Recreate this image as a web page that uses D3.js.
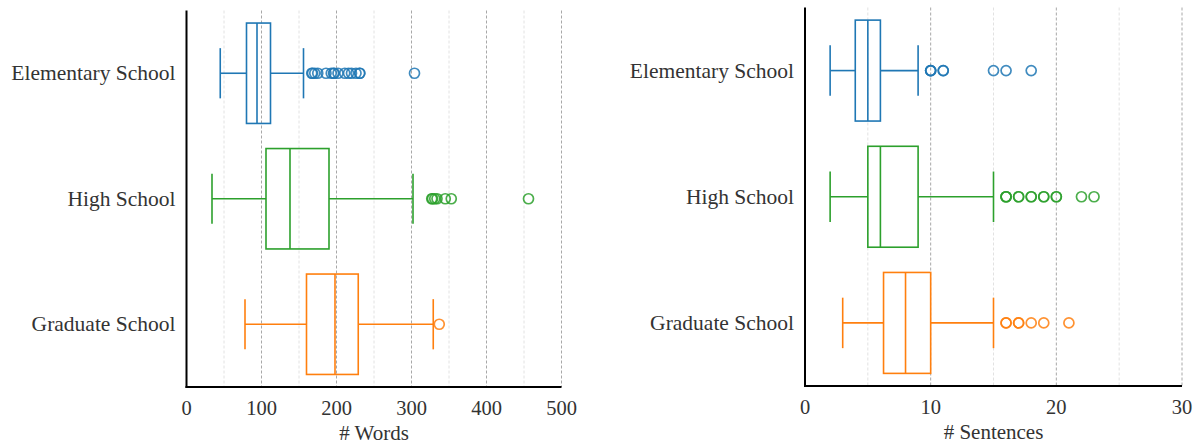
<!DOCTYPE html>
<html>
<head>
<script src="https://cdn.jsdelivr.net/npm/d3@7"></script>
<style type="text/css">
  body{
    margin: 0px;
    background: white;
  }
  text{
    font-family: 'Liberation Serif', serif;
    fill: #333;
  }
</style>
</head>
<body>
<svg id="chart" width="1199" height="444"></svg>
<script>

var categories = ["Elementary School", "High School", "Graduate School"];
var colors = ["#1f77b4", "#2ca02c", "#ff7f0e"];

// [whisker low, q1, median, q3, whisker high]
var wordsStats = [
  [45, 80, 94, 112, 156],
  [34, 106, 138, 190, 302],
  [78, 160, 198, 229, 329]
];
var wordsOutliers = [
  [167, 168, 171, 175, 186, 193, 196, 197, 202, 211, 216, 220, 226, 231, 231, 304],
  [327, 328, 331, 334, 345, 353, 456],
  [337]
];
var wordsTicks = [0, 100, 200, 300, 400, 500];

var sentStats = [
  [2, 4, 5, 6, 9],
  [2, 5, 6, 9, 15],
  [3, 6.25, 8, 10, 15]
];
// repeated values are sentences counts that occur more than once
var sentOutliers = [
  [10, 10, 10, 11, 11, 15, 16, 18],
  [16, 16, 16, 17, 17, 18, 18, 19, 19, 20, 20, 22, 23],
  [16, 16, 17, 17, 18, 19, 21]
];
var sentTicks = [0, 10, 20, 30];

var svg = d3.select("#chart");

function boxPanel(opt) {

  var x = d3.scaleLinear().domain([0, opt.max]).range([opt.x0, opt.x1]);
  var y = d3.scaleBand().domain(categories).range([opt.y0, opt.y1]);
  var g = svg.append("g");

  // grid, minor first
  var minor = d3.range(opt.minorStep, opt.max + 0.001, opt.minorStep)
    .filter(function(v) { return opt.ticks.indexOf(v) < 0; });
  g.selectAll(".minor").data(minor).enter().append("line")
    .attr("x1", function(d) { return x(d); }).attr("x2", function(d) { return x(d); })
    .attr("y1", opt.y0).attr("y2", opt.y1)
    .attr("stroke", "#e2e2e2").attr("stroke-width", 1).attr("stroke-dasharray", "3,2");
  g.selectAll(".major").data(opt.ticks.slice(1)).enter().append("line")
    .attr("x1", function(d) { return x(d); }).attr("x2", function(d) { return x(d); })
    .attr("y1", opt.y0).attr("y2", opt.y1)
    .attr("stroke", "#a8a8a8").attr("stroke-width", 1).attr("stroke-dasharray", "3,2");

  var bh = y.bandwidth() * 0.8;

  categories.forEach(function(c, i) {
    var s = opt.stats[i];
    var cy = y(c) + y.bandwidth() / 2;
    var col = colors[i];
    var b = g.append("g").attr("stroke", col).attr("stroke-width", 1.6).attr("fill", "none");

    b.append("line").attr("x1", x(s[0])).attr("x2", x(s[1])).attr("y1", cy).attr("y2", cy);
    b.append("line").attr("x1", x(s[3])).attr("x2", x(s[4])).attr("y1", cy).attr("y2", cy);
    [s[0], s[4]].forEach(function(v) {
      b.append("line").attr("x1", x(v)).attr("x2", x(v))
        .attr("y1", cy - bh / 4).attr("y2", cy + bh / 4);
    });
    b.append("rect")
      .attr("x", x(s[1])).attr("y", cy - bh / 2)
      .attr("width", x(s[3]) - x(s[1])).attr("height", bh);
    b.append("line").attr("x1", x(s[2])).attr("x2", x(s[2]))
      .attr("y1", cy - bh / 2).attr("y2", cy + bh / 2);

    b.selectAll("circle").data(opt.outliers[i]).enter().append("circle")
      .attr("cx", function(d) { return x(d); }).attr("cy", cy).attr("r", 5)
      .attr("stroke-width", 1.7).attr("stroke-opacity", 0.85);

    g.append("text")
      .attr("x", opt.x0 - 11).attr("y", cy)
      .attr("text-anchor", "end").attr("dominant-baseline", "central")
      .style("font-size", "21.5px")
      .text(c);
  });

  // spines
  g.append("line").attr("x1", opt.x0).attr("x2", opt.x0).attr("y1", opt.y0).attr("y2", opt.y1 + 1)
    .attr("stroke", "#000").attr("stroke-width", 2);
  g.append("line").attr("x1", opt.x0 - 1).attr("x2", opt.x1).attr("y1", opt.y1).attr("y2", opt.y1)
    .attr("stroke", "#000").attr("stroke-width", 2);

  g.selectAll(".tick").data(opt.ticks).enter().append("text")
    .attr("x", function(d) { return x(d); }).attr("y", opt.y1 + 28)
    .attr("text-anchor", "middle")
    .style("font-size", "20.5px")
    .text(function(d) { return d; });

  g.append("text")
    .attr("x", (opt.x0 + opt.x1) / 2).attr("y", opt.y1 + 53)
    .attr("text-anchor", "middle")
    .style("font-size", "21px")
    .text(opt.label);
}

boxPanel({
  x0: 186.5, x1: 561.5, y0: 10.5, y1: 387,
  max: 500, minorStep: 50, ticks: wordsTicks,
  stats: wordsStats, outliers: wordsOutliers, label: "# Words"
});

boxPanel({
  x0: 805, x1: 1182, y0: 7.5, y1: 386,
  max: 30, minorStep: 5, ticks: sentTicks,
  stats: sentStats, outliers: sentOutliers, label: "# Sentences"
});

</script>
</body>
</html>
